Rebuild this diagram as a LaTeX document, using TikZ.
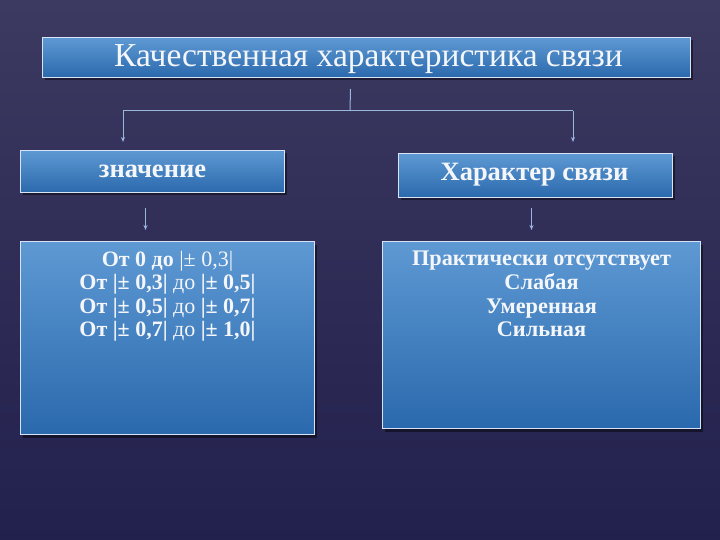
\documentclass[tikz,border=0pt]{standalone}
\usepackage{fontspec}
\setmainfont{Liberation Serif}
\usetikzlibrary{arrows.meta,shadows,calc}
\definecolor{bgtop}{HTML}{3C3A60}
\definecolor{bgbot}{HTML}{22204D}
\definecolor{boxtop}{HTML}{5E99D3}
\definecolor{boxbot}{HTML}{2A69AD}
\definecolor{edgec}{HTML}{D6E4F6}
\definecolor{connc}{HTML}{9AB6DE}
\definecolor{txt}{HTML}{F4F6FA}
\begin{document}
\begin{tikzpicture}[x=1pt,y=-1pt,
  bluebox/.style={draw=edgec, line width=1pt, top color=boxtop, bottom color=boxbot,
    inner sep=0pt, anchor=north west,
    drop shadow={shadow xshift=2pt, shadow yshift=-3pt, opacity=0.45, fill=black}},
  lbl/.style={text=txt, inner sep=0pt, align=center},
  conn/.style={draw=connc, line width=1pt},
  arr/.style={conn, -{Stealth[length=5pt,width=4pt]}}]
\useasboundingbox (0,0) rectangle (720,540);
\shade[top color=bgtop, bottom color=bgbot] (0,0) rectangle (720,540);

% boxes
\node[bluebox, minimum width=648pt, minimum height=40pt] (title) at (42,37) {};
\node[lbl, font=\fontsize{33.5}{38}\selectfont] at ($(title.center)+(2,2)$) {Качественная характеристика связи};

\node[bluebox, minimum width=264pt, minimum height=42pt] (zn) at (20,150) {};
\node[lbl, font=\fontsize{26.5}{30}\selectfont\bfseries] at (zn.center) {значение};

\node[bluebox, minimum width=274pt, minimum height=44pt] (har) at (398,153) {};
\node[lbl, font=\fontsize{26.5}{30}\selectfont\bfseries] at ($(har.center)+(-1,-1)$) {Характер связи};

\node[bluebox, minimum width=294pt, minimum height=193pt] (vals) at (20,241) {};
\node[lbl, anchor=north, font=\fontsize{22}{23.5}\selectfont] at ($(vals.north)+(0,10)$)
 {\textbf{От 0 до} |± 0,3|\\
  \textbf{От |± 0,3|} до \textbf{|± 0,5|}\\
  \textbf{От |± 0,5|} до \textbf{|± 0,7|}\\
  \textbf{От |± 0,7|} до \textbf{|± 1,0|}};

\node[bluebox, minimum width=318pt, minimum height=187pt] (kinds) at (382,241) {};
\node[lbl, anchor=north, font=\fontsize{22.3}{23.7}\selectfont\bfseries] at ($(kinds.north)+(0,10)$)
 {Практически отсутствует\\Слабая\\Умеренная\\Сильная};

% connectors
\coordinate (j) at (350,111);
\coordinate (jl) at (123,111);
\coordinate (jr) at (573,111);
\draw[conn] ($(title.south)+(-16,11)$) -- (j);
\draw[conn] (jl) -- (jr);
\draw[arr] (jl) -- ($(jl |- zn.north)+(0,-8)$);
\draw[arr] (jr) -- ($(jr |- har.north)+(0,-11)$);
\draw[arr] ($(zn.south)+(-7,15)$) -- ($(zn.south |- vals.north)+(-7,-11)$);
\draw[arr] ($(har.south)+(-4,10)$) -- ($(har.south |- vals.north)+(-4,-11)$);
\end{tikzpicture}
\end{document}
